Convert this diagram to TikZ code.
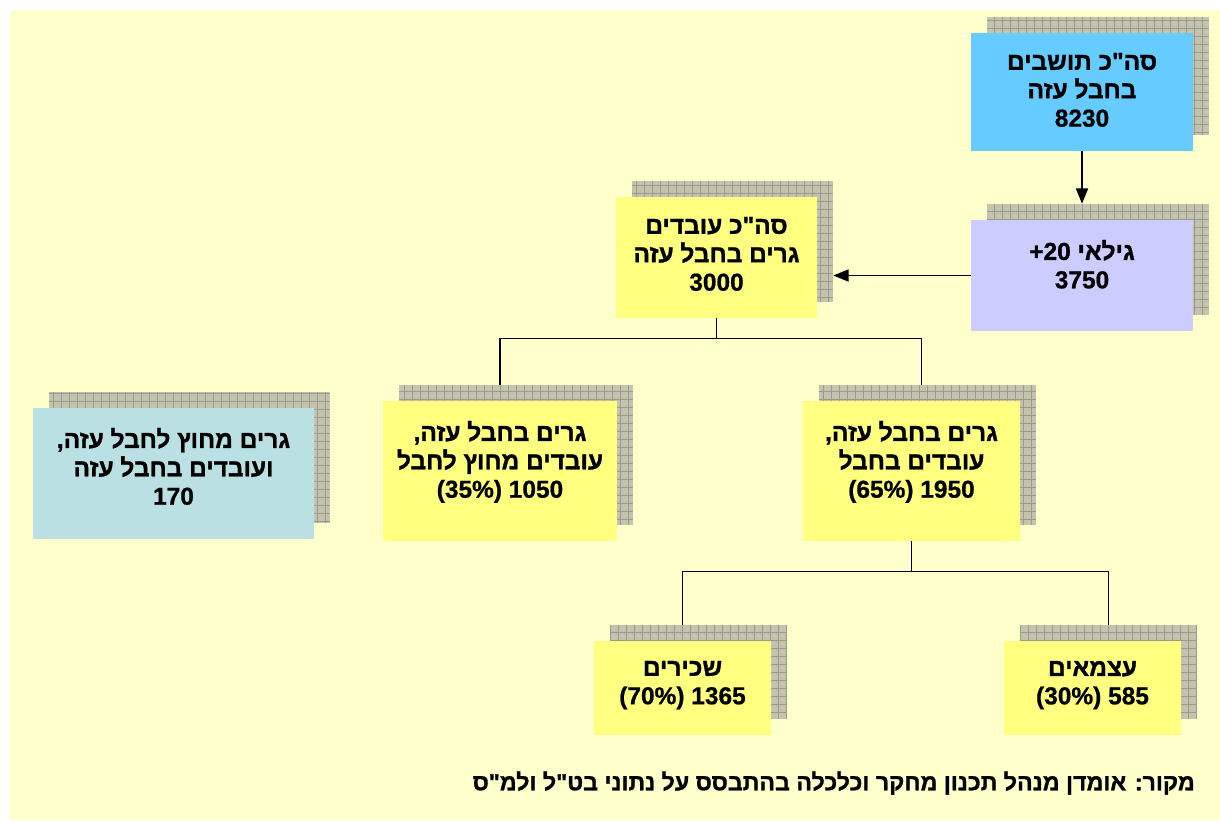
\documentclass[tikz,border=0pt]{standalone}
\usepackage{fontspec}
\setmainfont{Liberation Sans}[BoldFont={Liberation Sans Bold}, BoldFeatures={FakeBold=0.8}]
\newfontfamily\hebfont[Script=Hebrew, BoldFont={Liberation Sans Bold}, BoldFeatures={FakeBold=1.2}]{Liberation Sans}
\TeXXeTstate=1
\usetikzlibrary{positioning, arrows.meta, shadows}
\newcommand{\hebline}[1]{{\hebfont\beginR #1\endR}}
\definecolor{pagebg}{HTML}{FFFFCC}
\definecolor{blueblk}{HTML}{66CCFF}
\definecolor{lilacblk}{HTML}{CCCCFF}
\definecolor{yellowblk}{HTML}{FFFF80}
\definecolor{cyanblk}{HTML}{BBE0E3}
\definecolor{shadowfill}{HTML}{C4C4AE}
\definecolor{shadowline}{HTML}{9A9A8C}
\tikzset{
	>={Triangle[length=0.38cm,width=0.3cm]}, % filled arrow heads
	every node/.style={font=\bfseries\fontsize{17.4}{20.2}\selectfont},
	boxsize/.style 2 args={minimum width=#1, minimum height=#2},
	gridshadow/.style={general shadow={fill=shadowfill, shadow xshift=0.4cm, shadow yshift=0.4cm,
		path picture={\draw[shadowline, line width=0.5pt, step=0.2cm] (path picture bounding box.south west) grid (path picture bounding box.north east);}}},
	block/.style={rectangle, inner sep=0pt, gridshadow},
	boxtext/.style={align=center, inner sep=0pt},
	link/.style={line width=1.1pt, black},
}
\begin{document}
\begin{tikzpicture}[x=0.025cm, y=-0.025cm]
	\useasboundingbox (0,0) rectangle (1220,820);
	\fill[pagebg] (10,10) rectangle (1220,820);

	% Boxes
	\node[block, fill=blueblk, boxsize={5.55cm}{2.95cm}] (tot) at (1082,92) {};
	\node[block, fill=lilacblk, boxsize={5.55cm}{2.775cm}] (age) at (1082,275.5) {};
	\node[block, fill=yellowblk, boxsize={5.025cm}{3.025cm}] (work) at (716.5,257.5) {};
	\node[block, fill=yellowblk, boxsize={5.85cm}{3.5cm}] (out) at (500,471) {};
	\node[block, fill=yellowblk, boxsize={5.425cm}{3.5cm}] (in) at (911.5,471) {};
	\node[block, fill=cyanblk, boxsize={7.025cm}{3.275cm}] (side) at (173.5,473.5) {};
	\node[block, fill=yellowblk, boxsize={4.425cm}{2.35cm}] (emp) at (682.5,688) {};
	\node[block, fill=yellowblk, boxsize={4.425cm}{2.35cm}] (self) at (1092.5,688) {};

	% Texts
	\node[boxtext, below=0.5cm of tot.north] (tot-t) {\hebline{סה"כ תושבים}\\ \hebline{בחבל עזה}\\ 8230};
	\node[boxtext, below=0.5cm of age.north] (age-t) {\hebline{גילאי \beginL+\kern0pt 20\endL}\\ 3750};
	\node[boxtext, below=0.5cm of work.north] (work-t) {\hebline{סה"כ עובדים}\\ \hebline{גרים בחבל עזה}\\ 3000};
	\node[boxtext, below=0.5cm of out.north] (out-t) {\hebline{גרים בחבל עזה\kern0pt,}\\ \hebline{עובדים מחוץ לחבל}\\ (35\%) 1050};
	\node[boxtext, below=0.5cm of in.north] (in-t) {\hebline{גרים בחבל עזה\kern0pt,}\\ \hebline{עובדים בחבל}\\ (65\%) 1950};
	\node[boxtext, below=0.5cm of side.north] (side-t) {\hebline{גרים מחוץ לחבל עזה\kern0pt,}\\ \hebline{ועובדים בחבל עזה}\\ 170};
	\node[boxtext, below=0.5cm of emp.north] (emp-t) {\hebline{שכירים}\\ (70\%) 1365};
	\node[boxtext, below=0.5cm of self.north] (self-t) {\hebline{עצמאים}\\ (30\%) 585};
	\node[anchor=east, inner sep=0pt, font=\bfseries\fontsize{16.5}{19}\selectfont] (src) at (1195,783)
		{\hebline{מקור\kern0pt: אומדן מנהל תכנון מחקר וכלכלה בהתבסס על נתוני בט"ל ולמ"ס}};

	% Connectors
	\draw[link, ->] (tot.south) -- ([yshift=0.4cm]tot.south |- age.north);
	\draw[link, ->] (age.west) -- ([xshift=0.4cm]age.west -| work.east);
	\draw[link] (work.south) -- ++(0,20) -| ([yshift=0.4cm]out.north);
	\draw[link] (work.south) -- ++(0,20) -| ([xshift=0.25cm, yshift=0.4cm]in.north);
	\draw[link] (in.south) -- ++(0,30) -| ([yshift=0.4cm]emp.north);
	\draw[link] (in.south) -- ++(0,30) -| ([xshift=0.4cm, yshift=0.4cm]self.north);
\end{tikzpicture}
\end{document}
